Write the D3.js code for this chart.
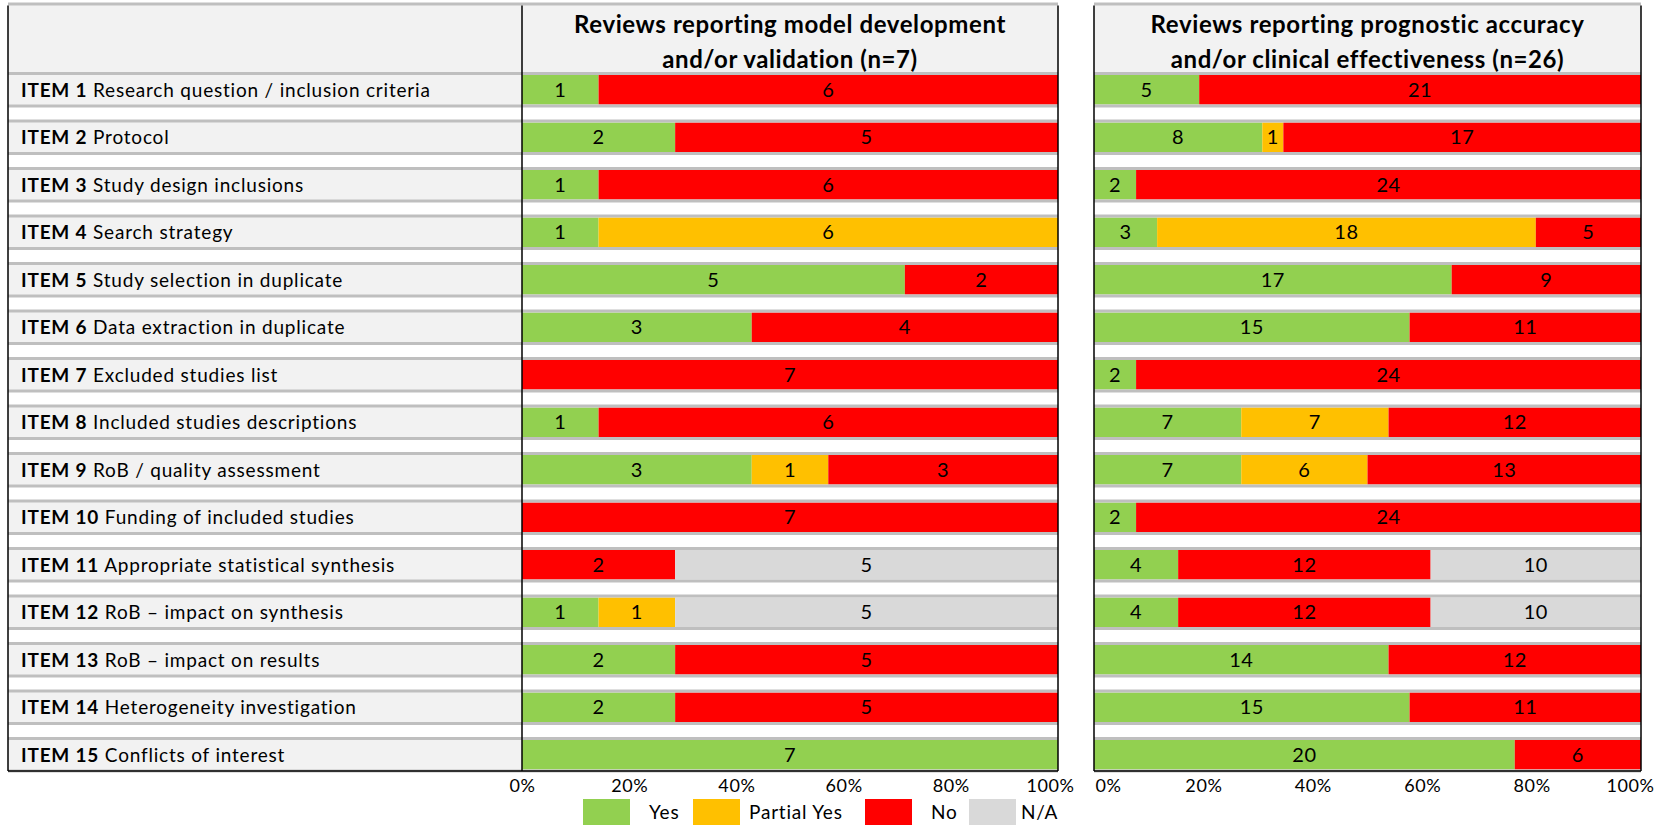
<!DOCTYPE html>
<html>
<head>
<meta charset="utf-8">
<script src="https://cdn.jsdelivr.net/npm/d3@7"></script>
<style>
  body { margin: 0; background: #fff; }
  svg { display: block; font-family: Lato, "Open Sans", sans-serif; }
</style>
</head>
<body>
<svg id="chart" width="1664" height="825"></svg>
<script>
// AMSTAR-style items
var items = ["Research question / inclusion criteria", "Protocol", "Study design inclusions",
    "Search strategy", "Study selection in duplicate", "Data extraction in duplicate",
    "Excluded studies list", "Included studies descriptions", "RoB / quality assessment",
    "Funding of included studies", "Appropriate statistical synthesis",
    "RoB \u2013 impact on synthesis", "RoB \u2013 impact on results",
    "Heterogeneity investigation", "Conflicts of interest"];

var categories = ["Yes", "Partial Yes", "No", "N/A"];
var colors = ["#92d050", "#ffc000", "#ff0000", "#d9d9d9"];

// model development and/or validation (n=7)
var devYes     = [1, 2, 1, 1, 5, 3, 0, 1, 3, 0, 0, 1, 2, 2, 7];
var devPartial = [0, 0, 0, 6, 0, 0, 0, 0, 1, 0, 0, 1, 0, 0, 0];
var devNo      = [6, 5, 6, 0, 2, 4, 7, 6, 3, 7, 2, 0, 5, 5, 0];
var devNA      = [0, 0, 0, 0, 0, 0, 0, 0, 0, 0, 5, 5, 0, 0, 0];

// prognostic accuracy and/or clinical effectiveness (n=26)
var progYes     = [5, 8, 2, 3, 17, 15, 2, 7, 7, 2, 4, 4, 14, 15, 20];
var progPartial = [0, 1, 0, 18, 0, 0, 0, 7, 6, 0, 0, 0, 0, 0, 0];
var progNo      = [21, 17, 24, 5, 9, 11, 24, 12, 13, 24, 12, 12, 12, 11, 6];
var progNA      = [0, 0, 0, 0, 0, 0, 0, 0, 0, 0, 10, 10, 0, 0, 0];

var tickLabels = ["0%", "20%", "40%", "60%", "80%", "100%"];

var panelTitles = [
    ["Reviews reporting model development", "and/or validation (n=7)"],
    ["Reviews reporting prognostic accuracy", "and/or clinical effectiveness (n=26)"]
];

var svg = d3.select("#chart");
var lineCol = "#bfbfbf";
var cellFill = "#f2f2f2";
var labelLeft = 8, labelRight = 522;
var headerTop = 4;

var y = d3.scaleBand()
    .domain(items)
    .range([73.5, 771])
    .paddingInner(0.3158)
    .paddingOuter(0);

function buildRows(yes, partial, no, na) {
    return items.map(function(d, i) {
        return {item: d, "Yes": yes[i], "Partial Yes": partial[i], "No": no[i], "N/A": na[i]};
    });
}

var panels = [
    {x0: 522, x1: 1058, rows: buildRows(devYes, devPartial, devNo, devNA), title: panelTitles[0], shift0: 0, shift1: -8},
    {x0: 1094, x1: 1641, rows: buildRows(progYes, progPartial, progNo, progNA), title: panelTitles[1], shift0: 14, shift1: -11}
];

var stack = d3.stack().keys(categories).offset(d3.stackOffsetExpand);

// label column
var lab = svg.append("g");
lab.append("rect")
    .attr("x", labelLeft).attr("y", headerTop)
    .attr("width", labelRight - labelLeft).attr("height", y.range()[0] - headerTop)
    .attr("fill", cellFill);

lab.selectAll(".cell")
    .data(items)
    .enter().append("rect")
    .attr("x", labelLeft)
    .attr("y", function(d){ return y(d); })
    .attr("width", labelRight - labelLeft)
    .attr("height", y.bandwidth())
    .attr("fill", cellFill);

lab.selectAll(".lbl")
    .data(items)
    .enter().append("text")
    .attr("x", labelLeft + 13)
    .attr("y", function(d){ return y(d) + y.bandwidth() / 2; })
    .attr("dy", "0.36em")
    .style("font-size", "19px")
    .style("letter-spacing", "0.8px")
    .attr("fill", "#000")
    .each(function(d, i) {
        var t = d3.select(this);
        t.append("tspan").style("font-weight", "bold").text("ITEM " + (i + 1));
        t.append("tspan").text(" " + d);
    });

function hLines(g, x0, x1) {
    g.append("rect").attr("x", x0).attr("y", headerTop - 1.5)
        .attr("width", x1 - x0).attr("height", 3).attr("fill", lineCol);
    items.forEach(function(d) {
        [y(d), y(d) + y.bandwidth()].forEach(function(yy) {
            g.append("rect").attr("x", x0).attr("y", yy - 1.5)
                .attr("width", x1 - x0).attr("height", 3).attr("fill", lineCol);
        });
    });
}

panels.forEach(function(p) {
    var g = svg.append("g");
    var x = d3.scaleLinear().domain([0, 1]).range([p.x0, p.x1]);

    g.append("rect")
        .attr("x", p.x0).attr("y", headerTop)
        .attr("width", p.x1 - p.x0).attr("height", y.range()[0] - headerTop)
        .attr("fill", cellFill);

    g.selectAll(".title")
        .data(p.title)
        .enter().append("text")
        .attr("x", (p.x0 + p.x1) / 2)
        .attr("y", function(d, i){ return 24 + i * 35; })
        .attr("dy", "0.36em")
        .attr("text-anchor", "middle")
        .style("font-size", "24px")
        .style("letter-spacing", "0.6px")
        .style("font-weight", "bold")
        .text(function(d){ return d; });

    var series = stack(p.rows);
    var layer = g.selectAll(".layer")
        .data(series)
        .enter().append("g")
        .attr("fill", function(d, i){ return colors[i]; });

    layer.selectAll("rect")
        .data(function(d){ return d.filter(function(s){ return s[1] > s[0]; }); })
        .enter().append("rect")
        .attr("x", function(d){ return x(d[0]); })
        .attr("y", function(d){ return y(d.data.item) + 1.5; })
        .attr("width", function(d){ return x(d[1]) - x(d[0]); })
        .attr("height", y.bandwidth() - 3);

    series.forEach(function(s) {
        g.selectAll(".v-" + s.index)
            .data(s.filter(function(d){ return d[1] > d[0]; }))
            .enter().append("text")
            .attr("x", function(d){ return (x(d[0]) + x(d[1])) / 2; })
            .attr("y", function(d){ return y(d.data.item) + y.bandwidth() / 2; })
            .attr("dy", "0.36em")
            .attr("text-anchor", "middle")
            .style("font-size", "20px")
            .style("letter-spacing", "0.5px")
            .attr("fill", "#000")
            .text(function(d){ return d.data[s.key]; });
    });

    hLines(g, p.x0, p.x1);

    // frame
    g.append("line").attr("x1", p.x0).attr("x2", p.x0).attr("y1", headerTop + 1.5).attr("y2", 771)
        .attr("stroke", "#000").attr("stroke-width", 1.5);
    g.append("line").attr("x1", p.x1).attr("x2", p.x1).attr("y1", headerTop + 1.5).attr("y2", 771)
        .attr("stroke", "#000").attr("stroke-width", 1.5);
    g.append("line").attr("x1", p.x0).attr("x2", p.x1).attr("y1", 771).attr("y2", 771)
        .attr("stroke", "#000").attr("stroke-width", 1.5);

    var axis = d3.axisBottom(x)
        .tickValues([0, 0.2, 0.4, 0.6, 0.8, 1])
        .tickFormat(function(d, i){ return tickLabels[i]; })
        .tickSize(0)
        .tickPadding(0);
    var ax = g.append("g")
        .attr("transform", "translate(0,779)")
        .call(axis);
    ax.select(".domain").remove();
    ax.selectAll("text")
        .style("font-size", "18px")
        .style("letter-spacing", "0.6px")
        .style("font-family", "Lato, sans-serif")
        .attr("fill", "#000")
        .attr("dx", function(d){ return d === 0 ? p.shift0 : (d === 1 ? p.shift1 : 0); });
});

hLines(lab, labelLeft, labelRight);
lab.append("line").attr("x1", labelLeft).attr("x2", labelLeft).attr("y1", headerTop + 1.5).attr("y2", 771)
    .attr("stroke", "#000").attr("stroke-width", 1.5);
lab.append("line").attr("x1", labelLeft).attr("x2", labelRight).attr("y1", 771).attr("y2", 771)
    .attr("stroke", "#000").attr("stroke-width", 1.5);

// legend
var legX = [583, 693, 865, 969];
var leg = svg.append("g").selectAll("g")
    .data(categories)
    .enter().append("g")
    .attr("transform", function(d, i){ return "translate(" + legX[i] + ",799)"; });
leg.append("rect")
    .attr("width", 47).attr("height", 26)
    .attr("fill", function(d, i){ return colors[i]; });
leg.append("text")
    .attr("x", function(d, i){ return i === 1 ? 56 : (i === 3 ? 52 : 66); })
    .attr("y", 13)
    .attr("dy", "0.36em")
    .style("font-size", "19px")
    .style("letter-spacing", "0.8px")
    .text(function(d){ return d; });
</script>
</body>
</html>
